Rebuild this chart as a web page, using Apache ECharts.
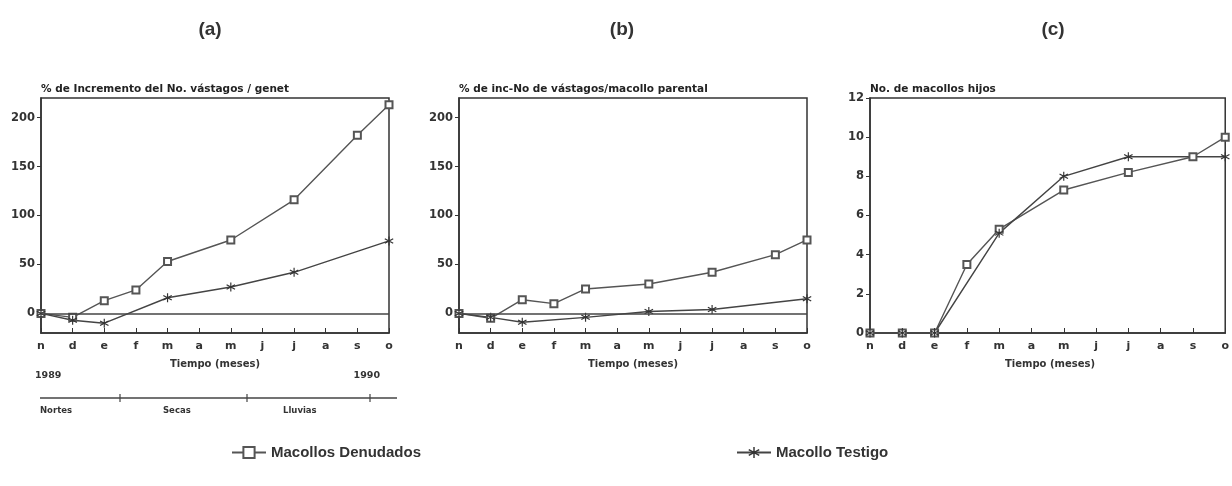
<!DOCTYPE html>
<html>
<head>
<meta charset="utf-8">
<script src="https://cdn.jsdelivr.net/npm/echarts@6/dist/echarts.min.js"></script>
<style>html,body{margin:0;padding:0;background:#fff}#c{width:1232px;height:486px}</style>
</head>
<body>
<div id="c"></div>
<script>
// ---- data ----
const months = ['n','d','e','f','m','a','m','j','j','a','s','o'];
const pctTicks = [0, 50, 100, 150, 200];
const countTicks = [0, 2, 4, 6, 8, 10, 12];
const panelLabels = ['(a)', '(b)', '(c)'];
const panelTitles = ['% de Incremento del No. vástagos / genet', '% de inc-No de vástagos/macollo parental', 'No. de macollos hijos'];
const xTitle = 'Tiempo (meses)';
const years = ['1989', '1990'];
const seasons = ['Nortes', 'Secas', 'Lluvias'];
const nameDen = 'Macollos Denudados';
const nameTest = 'Macollo Testigo';
// (a) % increment of shoots per genet
const denA  = [0, -4, 13, 24, 53, null, 75, null, 116, null, 182, 213];
const testA = [0, -7, -10, null, 16, null, 27, null, 42, null, null, 74];
// (b) % increment shoots per parental tiller
const denB  = [0, -5, 14, 10, 25, null, 30, null, 42, null, 60, 75];
const testB = [0, -4, -9, null, -4, null, 2, null, 4, null, null, 15];
// (c) number of daughter tillers
const denC  = [0, 0, 0, 3.5, 5.3, null, 7.3, null, 8.2, null, 9, 10];
const testC = [0, 0, 0, null, 5.1, null, 8, null, 9, null, null, 9];

const FONT = '"DejaVu Sans", "Liberation Sans", sans-serif';
const LFONT = '"Liberation Sans", Arial, sans-serif';
const INK = '#333';
const LINE = '#555';
const asterisk = 'path://M-0.6,-5L0.6,-5L0.6,5L-0.6,5Z' +
  'M-4.63,-1.98L-4.03,-3.02L4.63,1.98L4.03,3.02Z' +
  'M-4.03,3.02L-4.63,1.98L4.03,-3.02L4.63,-1.98Z';

const chart = echarts.init(document.getElementById('c'), null, {renderer: 'canvas'});

const grids = [
  {left: 41, right: 843, top: 98, bottom: 153},
  {left: 459, right: 425, top: 98, bottom: 153},
  {left: 870, right: 4, top: 98, bottom: 153}
].map(g => Object.assign(g, {show: true, borderColor: INK, borderWidth: 1.5, backgroundColor: 'transparent'}));

const xAxes = [0, 1, 2].map(i => ({
  type: 'category', gridIndex: i, data: months, boundaryGap: false,
  axisLine: {onZero: false, lineStyle: {color: INK, width: 1.5}},
  axisTick: {inside: true, length: 5, lineStyle: {color: INK}},
  axisLabel: {color: INK, fontFamily: FONT, fontSize: 11, fontWeight: 'bold', margin: 8, interval: 0}
}));

const yCommon = {
  axisLine: {show: true, lineStyle: {color: INK, width: 1.5}},
  splitLine: {show: false},
  axisLabel: {color: INK, fontFamily: FONT, fontSize: 11.5, fontWeight: 'bold', margin: 6}
};
const yAxes = [
  Object.assign({}, yCommon, {type: 'value', gridIndex: 0, min: -20, max: 220,
    axisTick: {show: true, length: 4, customValues: pctTicks, lineStyle: {color: INK}},
    axisLabel: Object.assign({}, yCommon.axisLabel, {customValues: pctTicks})}),
  Object.assign({}, yCommon, {type: 'value', gridIndex: 1, min: -20, max: 220,
    axisTick: {show: true, length: 4, customValues: pctTicks, lineStyle: {color: INK}},
    axisLabel: Object.assign({}, yCommon.axisLabel, {customValues: pctTicks})}),
  Object.assign({}, yCommon, {type: 'value', gridIndex: 2, min: 0, max: 12, interval: 2,
    axisTick: {show: true, length: 4, lineStyle: {color: INK}}})
];

function denSeries(i, data, zero) {
  const s = {
    name: nameDen, type: 'line', xAxisIndex: i, yAxisIndex: i, data: data, connectNulls: true,
    symbol: 'emptyRect', symbolSize: 7, showSymbol: true,
    lineStyle: {color: LINE, width: 1.4}, itemStyle: {color: LINE, borderWidth: 1.3}
  };
  if (zero) s.markLine = {silent: true, symbol: 'none', label: {show: false},
    lineStyle: {color: '#444', type: 'solid', width: 1.5}, data: [{yAxis: 0}]};
  return s;
}
function testSeries(i, data) {
  return {
    name: nameTest, type: 'line', xAxisIndex: i, yAxisIndex: i, data: data, connectNulls: true,
    symbol: asterisk, symbolSize: 9, showSymbol: true,
    lineStyle: {color: '#444', width: 1.4}, itemStyle: {color: '#333'}
  };
}

const centers = [215, 633, 1050];
const graphic = [];
panelLabels.forEach((t, i) => graphic.push({type: 'text', x: [210, 622, 1053][i], y: 30,
  style: {text: t, fill: INK, font: 'bold 19px ' + LFONT, align: 'center', verticalAlign: 'middle'}}));
panelTitles.forEach((t, i) => graphic.push({type: 'text', x: [41, 459, 870][i], y: 89,
  style: {text: t, fill: '#222', font: 'bold 10.5px ' + FONT, align: 'left', verticalAlign: 'middle'}}));
centers.forEach(cx => graphic.push({type: 'text', x: cx, y: 364,
  style: {text: xTitle, fill: INK, font: 'bold 10px ' + FONT, align: 'center', verticalAlign: 'middle'}}));
graphic.push({type: 'text', x: 35, y: 376, style: {text: years[0], fill: INK, font: 'bold 9.5px ' + FONT, align: 'left', verticalAlign: 'middle'}});
graphic.push({type: 'text', x: 380, y: 376, style: {text: years[1], fill: INK, font: 'bold 9.5px ' + FONT, align: 'right', verticalAlign: 'middle'}});
graphic.push({type: 'line', shape: {x1: 40, y1: 398, x2: 397, y2: 398}, style: {stroke: '#444', lineWidth: 1.5}});
[120, 247, 370].forEach(x => graphic.push({type: 'line', shape: {x1: x, y1: 394, x2: x, y2: 402}, style: {stroke: '#444', lineWidth: 1.2}}));
seasons.forEach((s, i) => graphic.push({type: 'text', x: [40, 163, 283][i], y: 411,
  style: {text: s, fill: INK, font: 'bold 8.5px ' + FONT, align: 'left', verticalAlign: 'middle'}}));

const option = {
  animation: false,
  backgroundColor: '#fff',
  grid: grids,
  xAxis: xAxes,
  yAxis: yAxes,
  legend: [
    {data: [nameDen], left: 226, top: 440, itemWidth: 34, itemHeight: 14, itemGap: 10,
      textStyle: {color: INK, fontFamily: LFONT, fontSize: 15, fontWeight: 'bold'}},
    {data: [nameTest], left: 731, top: 440, itemWidth: 34, itemHeight: 14, itemGap: 10,
      textStyle: {color: INK, fontFamily: LFONT, fontSize: 15, fontWeight: 'bold'}}
  ],
  series: [
    denSeries(0, denA, true), testSeries(0, testA),
    denSeries(1, denB, true), testSeries(1, testB),
    denSeries(2, denC, false), testSeries(2, testC)
  ],
  graphic: graphic
};
chart.setOption(option);
</script>
</body>
</html>
